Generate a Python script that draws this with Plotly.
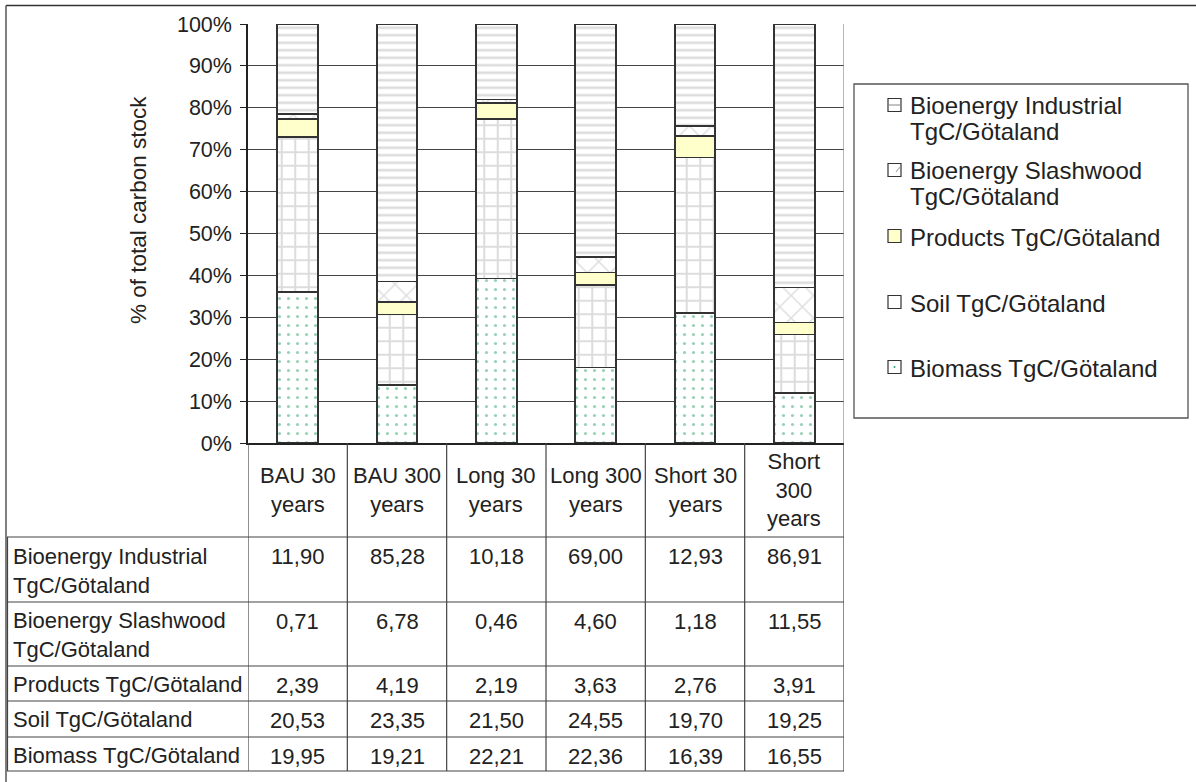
import plotly.graph_objects as go

# ---- data -------------------------------------------------------------
categories = ["BAU 30 years", "BAU 300 years", "Long 30 years",
              "Long 300 years", "Short 30 years", "Short 300 years"]
category_labels = ["BAU 30<br>years", "BAU 300<br>years", "Long 30<br>years",
                   "Long 300<br>years", "Short 30<br>years", "Short<br>300<br>years"]

series_names = ["Bioenergy Industrial<br>TgC/Götaland",
                "Bioenergy Slashwood<br>TgC/Götaland",
                "Products TgC/Götaland",
                "Soil TgC/Götaland",
                "Biomass TgC/Götaland"]

bioenergy_industrial = [11.90, 85.28, 10.18, 69.00, 12.93, 86.91]
bioenergy_slashwood = [0.71, 6.78, 0.46, 4.60, 1.18, 11.55]
products = [2.39, 4.19, 2.19, 3.63, 2.76, 3.91]
soil = [20.53, 23.35, 21.50, 24.55, 19.70, 19.25]
biomass = [19.95, 19.21, 22.21, 22.36, 16.39, 16.55]

y_ticks = [0, 10, 20, 30, 40, 50, 60, 70, 80, 90, 100]
y_tick_labels = [f"{t}%" for t in y_ticks]

# ---- layout geometry (pixels) ----------------------------------------
W, H = 1196, 782
PL, PR, PT, PB = 248, 844, 24, 443          # plot area edges
FONT = "Liberation Sans, Arial, sans-serif"
INK = "#222222"


def px(x):
    return (x - PL) / (PR - PL)


def py(y):
    return (PB - y) / (PB - PT)


# series in table order (top row first) with their fills
series_values = [bioenergy_industrial, bioenergy_slashwood, products, soil, biomass]
styles = [
    dict(color="white", pattern=dict(shape="-", fgcolor="#bcbcbc", bgcolor="white",
                                     size=7.5, solidity=0.35)),
    dict(color="white", pattern=dict(shape="x", fgcolor="#bdbdbd", bgcolor="white",
                                     size=16, solidity=0.18)),
    dict(color="#FFFFCC"),
    dict(color="white", pattern=dict(shape="+", fgcolor="#bababa", bgcolor="white",
                                     size=13.5, solidity=0.28)),
    dict(color="white", pattern=dict(shape=".", fgcolor="#33a36f", bgcolor="white",
                                     size=9, solidity=0.1)),
]

fig = go.Figure()

# stacked bars, bottom segment first
for name, vals, st in reversed(list(zip(series_names, series_values, styles))):
    marker = dict(st)
    marker["line"] = dict(color="#333333", width=1.8)
    fig.add_trace(go.Bar(x=categories, y=vals, name=name.replace("<br>", " "),
                         marker=marker, width=0.41, showlegend=False))

shapes = []
annotations = []

# outer frame (top and left edges)
shapes.append(dict(type="line", xref="paper", yref="paper", x0=px(6), x1=px(1200),
                   y0=py(5.5), y1=py(5.5), line=dict(color="#333", width=1.5)))
shapes.append(dict(type="line", xref="paper", yref="paper", x0=px(6), x1=px(6),
                   y0=py(5.5), y1=py(790), line=dict(color="#555", width=1.5)))

# right border of plot area
shapes.append(dict(type="line", xref="x", yref="paper", x0=5.5, x1=5.5, y0=0, y1=1,
                   line=dict(color="#888", width=1.2)))

# ---- data table under the chart -------------------------------------
row_edges = [537, 602, 666, 701, 737, 771]
TABLE_COLOR = "#444444"

for i in range(len(categories) + 1):
    shapes.append(dict(type="line", xref="x", yref="paper", x0=i - 0.5, x1=i - 0.5,
                       y0=py(PB), y1=py(row_edges[-1]),
                       line=dict(color=TABLE_COLOR, width=1.2)))
for e in row_edges:
    shapes.append(dict(type="line", xref="paper", yref="paper", x0=px(7), x1=px(PR),
                       y0=py(e), y1=py(e), line=dict(color=TABLE_COLOR, width=1.2)))
shapes.append(dict(type="line", xref="paper", yref="paper", x0=px(7.5), x1=px(7.5),
                   y0=py(row_edges[0]), y1=py(row_edges[-1]),
                   line=dict(color=TABLE_COLOR, width=1.2)))

TFS = 22
for cat, lab in zip(categories, category_labels):
    annotations.append(dict(x=cat, xref="x", y=py(490), yref="paper", text=lab,
                            showarrow=False, xanchor="center", yanchor="middle",
                            font=dict(family=FONT, size=TFS, color=INK)))

for r, (name, vals) in enumerate(zip(series_names, series_values)):
    top, bot = row_edges[r], row_edges[r + 1]
    annotations.append(dict(x=px(11), xref="paper", y=py((top + bot) / 2 + 1), yref="paper",
                            text=name, showarrow=False, xanchor="left", yanchor="middle",
                            align="left", font=dict(family=FONT, size=TFS, color=INK)))
    for cat, v in zip(categories, vals):
        annotations.append(dict(x=cat, xref="x", y=py(top + 19.5), yref="paper",
                                text=f"{v:.2f}".replace(".", ","), showarrow=False,
                                xanchor="center", yanchor="middle",
                                font=dict(family=FONT, size=TFS, color=INK)))

# ---- legend box --------------------------------------------------------
shapes.append(dict(type="rect", xref="paper", yref="paper", x0=px(854), x1=px(1188),
                   y0=py(84), y1=py(418), line=dict(color="#555", width=1.3),
                   fillcolor="white", layer="below"))
legend_first_line = [105, 170, 236, 302, 367]
LFS = 24
SX0, SX1 = 888, 901
for k, (name, y0) in enumerate(zip(series_names, legend_first_line)):
    for j, line in enumerate(name.split("<br>")):
        annotations.append(dict(x=px(908), xref="paper", y=py(y0 + j * 25.5 + 1), yref="paper",
                                text=line, showarrow=False, xanchor="left", yanchor="middle",
                                font=dict(family=FONT, size=LFS, color=INK)))
    fill = "#FFFFCC" if k == 2 else "white"
    shapes.append(dict(type="rect", xref="paper", yref="paper", x0=px(SX0), x1=px(SX1),
                       y0=py(y0 - 6.5), y1=py(y0 + 6.5), fillcolor=fill,
                       line=dict(color="#333", width=1.2)))
    if k == 0:
        shapes.append(dict(type="line", xref="paper", yref="paper", x0=px(SX0 + 1), x1=px(SX1 - 1),
                           y0=py(y0), y1=py(y0), line=dict(color="#999", width=1.2)))
    elif k == 1:
        shapes.append(dict(type="line", xref="paper", yref="paper", x0=px(SX1 - 5), x1=px(SX1 - 1),
                           y0=py(y0 + 2), y1=py(y0 - 3), line=dict(color="#aaa", width=1.2)))
    elif k == 4:
        shapes.append(dict(type="circle", xref="paper", yref="paper", x0=px(893.5), x1=px(895.5),
                           y0=py(y0 + 1), y1=py(y0 - 1), fillcolor="#33a36f",
                           line=dict(width=0)))

# y axis title
annotations.append(dict(x=px(138), xref="paper", y=py(210), yref="paper",
                        text="% of total carbon stock", textangle=-90, showarrow=False,
                        xanchor="center", yanchor="middle",
                        font=dict(family=FONT, size=22.5, color=INK)))

fig.update_layout(
    width=W, height=H, autosize=False,
    margin=dict(l=PL, r=W - PR, t=PT, b=H - PB, pad=0),
    paper_bgcolor="white", plot_bgcolor="white",
    barmode="stack", barnorm="percent", bargap=0.59,
    showlegend=False,
    shapes=shapes, annotations=annotations,
    font=dict(family=FONT, color=INK),
)
fig.update_yaxes(range=[0, 100], tickmode="array", tickvals=y_ticks, ticktext=y_tick_labels,
                 showgrid=True, gridcolor="#444444", gridwidth=1.2,
                 showline=True, linecolor="#222", linewidth=1.5,
                 ticks="outside", ticklen=6, tickcolor="#222", tickwidth=1.2,
                 tickfont=dict(family=FONT, size=21.5, color=INK), ticklabelstandoff=4,
                 zeroline=False)
fig.update_xaxes(type="category", range=[-0.5, 5.5], showticklabels=False,
                 showline=True, linecolor="#222", linewidth=1.5, ticks="",
                 showgrid=False)

fig.write_html("out.html")
